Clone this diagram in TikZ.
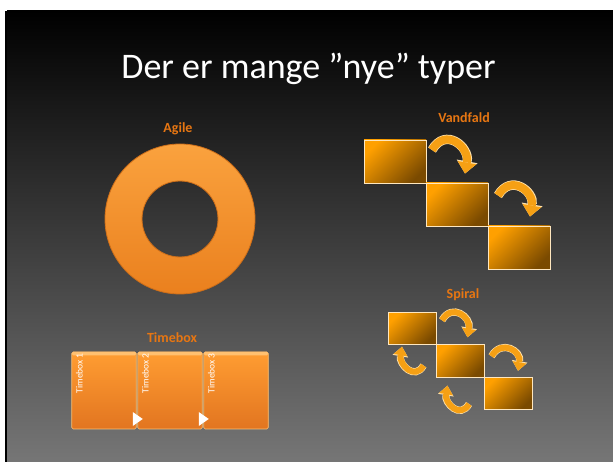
\documentclass[tikz,border=0pt]{standalone}
\usepackage{fontspec}
\setmainfont{Carlito}
\usetikzlibrary{positioning,arrows.meta}
\definecolor{slidegray}{RGB}{118,118,118}
\definecolor{labelorange}{RGB}{231,118,18}
\definecolor{boxlight}{RGB}{255,160,0}
\definecolor{boxdark}{RGB}{122,74,0}
\definecolor{arroworange}{RGB}{246,160,20}
\definecolor{arrowrim}{RGB}{255,225,170}
\definecolor{ringtop}{RGB}{250,162,62}
\definecolor{ringbot}{RGB}{234,128,30}
\definecolor{ringedge}{RGB}{205,110,25}
\definecolor{tbtop}{RGB}{255,157,50}
\definecolor{tbbot}{RGB}{226,117,32}
\definecolor{tbhigh}{RGB}{255,192,112}

\begin{document}
\begin{tikzpicture}[x=1pt,y=1pt,
  header/.style={font=\bfseries\fontsize{14}{16}\selectfont, text=labelorange, anchor=base},
  stairbox/.style={draw=white!75!boxlight, line width=0.7pt, inner sep=0pt, outer sep=0pt,
    top color=boxlight, bottom color=boxdark, shading angle=45},
  bigbox/.style={stairbox, minimum width=62pt, minimum height=43pt},
  smallbox/.style={stairbox, minimum width=48pt, minimum height=32.5pt},
  bigarrow/.style={draw=arroworange, line width=8pt, -{Triangle[length=11pt,width=19pt,line width=0pt]},
    preaction={draw=arrowrim, line width=9.4pt, -{Triangle[length=12.3pt,width=21.2pt,line width=0pt]}}},
  smallarrow/.style={draw=arroworange, line width=6pt, -{Triangle[length=8.5pt,width=14pt,line width=0pt]},
    preaction={draw=arrowrim, line width=7.2pt, -{Triangle[length=9.6pt,width=15.8pt,line width=0pt]}}},
  timebox/.style={draw=tbhigh, line width=0.6pt, rounded corners=1.5pt, inner sep=0pt, outer sep=0pt,
    minimum width=64.5pt, minimum height=77pt, top color=tbtop, bottom color=tbbot,
    path picture={\fill[tbhigh] (path picture bounding box.north west) rectangle ([yshift=-3.5pt]path picture bounding box.north east);}},
  tblabel/.style={rotate=90, anchor=north east, inner sep=0pt, text=white, font=\fontsize{9.5}{11}\selectfont}]

% slide background
\useasboundingbox (0,0) rectangle (613,462);
\fill[white] (0,0) rectangle (613,462);
\fill[black] (5,0) rectangle (613,451);
\shade[top color=black, bottom color=slidegray] (7,0) rectangle (613,451);

\node[anchor=base, text=white, font=\fontsize{36}{40}\selectfont] (title) at (308.5,383) {Der er mange ”nye” typer};

% Agile
\node[header] (agiletxt) at (178,329) {Agile};
\coordinate (agile) at (180,243);
\shade[even odd rule, top color=ringtop, bottom color=ringbot] (agile) circle[radius=75] (agile) circle[radius=38];
\draw[ringedge, line width=0.8pt] (agile) circle[radius=75] (agile) circle[radius=38];

% Vandfald
\node[header] (vandtxt) at (464,339) {Vandfald};
\node[bigbox] (v1) at (395,300.5) {};
\node[bigbox, below right=0pt and 0pt of v1] (v2) {};
\node[bigbox, below right=0pt and 0pt of v2] (v3) {};
\draw[bigarrow] ([shift={(6,-10)}]v1.north east) to[out=60, in=80, looseness=1.7] ([shift={(8,9.5)}]v2.north);
\draw[bigarrow] ([shift={(10,-12.5)}]v2.north east) to[out=60, in=80, looseness=1.7] ([shift={(11,9.5)}]v3.north);

% Spiral
\node[header] (spiraltxt) at (463,163) {Spiral};
\node[smallbox] (s1) at (412,133.5) {};
\node[smallbox, below right=0pt and 0pt of s1] (s2) {};
\node[smallbox, below right=0pt and 0pt of s2] (s3) {};
\draw[smallarrow] ([shift={(6,-8)}]s1.north east) to[out=60, in=80, looseness=1.7] ([shift={(7.5,7.5)}]s2.north);
\draw[smallarrow] ([shift={(7.5,-11.5)}]s2.north east) to[out=60, in=80, looseness=1.7] ([shift={(10,6.5)}]s3.north);
\draw[smallarrow] ([shift={(-12.5,-4.5)}]s2.west) to[out=240, in=-100, looseness=1.6] ([shift={(-10,-2)}]s1.south);
\draw[smallarrow] ([shift={(-15,-10.5)}]s3.west) to[out=240, in=-100, looseness=1.6] ([shift={(-12.5,-8.5)}]s2.south);

% Timebox
\node[header] (timetxt) at (172,119) {Timebox};
\node[timebox] (tb1) at (104,71.5) {};
\node[timebox, right=1.5pt of tb1] (tb2) {};
\node[timebox, right=1.5pt of tb2] (tb3) {};
\foreach \i in {1,2,3}
  \node[tblabel] (tbl\i) at ([shift={(4,-1)}]tb\i.north west) {Timebox \i};
\foreach \i in {1,2}
  \fill[white] ([shift={(-3.5,3)}]tb\i.south east) -- ([shift={(-3.5,17)}]tb\i.south east)
    -- ([shift={(6.5,10)}]tb\i.south east) -- cycle;
\end{tikzpicture}
\end{document}
